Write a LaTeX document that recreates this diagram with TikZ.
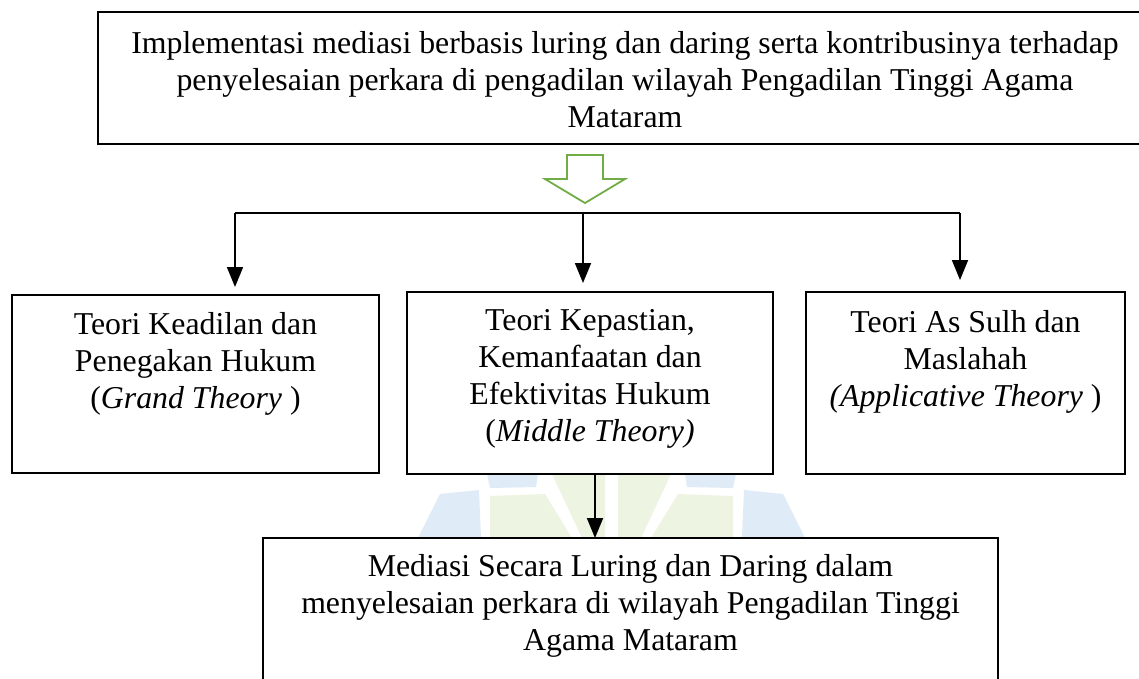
\documentclass[tikz,border=0pt]{standalone}
\usepackage{fontspec}
\setmainfont{Liberation Serif}
\usetikzlibrary{arrows.meta}
\definecolor{wmblue}{HTML}{DFEBF6}
\definecolor{wmgreen}{HTML}{EDF4E2}
\definecolor{arrgreen}{HTML}{70AD47}
\begin{document}
\begin{tikzpicture}[x=1pt,y=-1pt,
  box/.style={draw=black,line width=1.5pt,fill=white,inner sep=0pt,outer sep=0pt},
  txt/.style={align=center,inner sep=0pt,font=\fontsize{31.8}{37}\selectfont},
  conn/.style={line width=1.8pt,black},
  arr/.style={conn,-{Triangle[length=20pt,width=16pt]}}]
\useasboundingbox (0,0) rectangle (1139,678);
\clip (0,0) rectangle (1139,678);
\fill[white] (0,0) rectangle (1139,678);
% faint watermark
\fill[wmblue] (418,538) -- (440,494) -- (479,490) -- (481,538) -- cycle;
\fill[wmblue] (487,474) -- (538,474) -- (536,487) -- (490,488) -- cycle;
\fill[wmblue] (805,538) -- (783,494) -- (744,490) -- (742,538) -- cycle;
\fill[wmblue] (736,474) -- (685,474) -- (687,487) -- (733,488) -- cycle;
\fill[wmgreen] (490,496) -- (545,494) -- (572,538) -- (490,538) -- cycle;
\fill[wmgreen] (552,474) -- (605,474) -- (605,538) -- (582,538) -- cycle;
\fill[wmgreen] (733,496) -- (678,494) -- (651,538) -- (733,538) -- cycle;
\fill[wmgreen] (671,474) -- (618,474) -- (618,538) -- (641,538) -- cycle;
% boxes
\node[box,line width=2pt,minimum width=1062pt,minimum height=132pt] (b0) at (629,78) {};
\node[box,minimum width=367pt,minimum height=178pt] (b1) at (195.5,384) {};
\node[box,minimum width=366pt,minimum height=182pt] (b2) at (590,383) {};
\node[box,minimum width=319pt,minimum height=182pt] (b3) at (965.5,383) {};
\node[box,minimum width=735pt,minimum height=162pt] (b4) at (630.5,619) {};
% texts
\node[txt] (t0) at (625,80) {Implementasi mediasi berbasis luring dan daring serta kontribusinya terhadap\\penyelesaian perkara di pengadilan wilayah Pengadilan Tinggi Agama\\Mataram};
\node[txt] (t1) at (195.5,364) {Teori Keadilan dan\\Penegakan Hukum\\(\textit{Grand Theory} )};
\node[txt] (t2) at (590,379) {Teori Kepastian,\\Kemanfaatan dan\\Efektivitas Hukum\\(\textit{Middle Theory)}};
\node[txt] (t3) at (965.5,362) {Teori As Sulh dan\\Maslahah\\\textit{(Applicative Theory} )};
\node[txt] (t4) at (630.5,606) {Mediasi Secara Luring dan Daring dalam\\menyelesaian perkara di wilayah Pengadilan Tinggi\\Agama Mataram};
% green hollow arrow
\draw[arrgreen,line width=1.8pt,line join=miter]
  (567,155) -- (603,155) -- (603,179) -- (625,179) -- (585,203) -- (545,179) -- (567,179) -- cycle;
% connectors
\coordinate (hl) at (235,213);
\coordinate (hm) at (583,213);
\coordinate (hr) at (960,213);
\coordinate (mm) at (595,0);
\draw[conn] (hl) -- (hr);
\draw[arr,shorten >=8pt] (hl) -- (hl |- b1.north);
\draw[arr,shorten >=9pt] (hm) -- (hm |- b2.north);
\draw[arr,shorten >=12pt] (hr) -- (hr |- b3.north);
\draw[arr] (mm |- b2.south) -- (mm |- b4.north);
\end{tikzpicture}
\end{document}
